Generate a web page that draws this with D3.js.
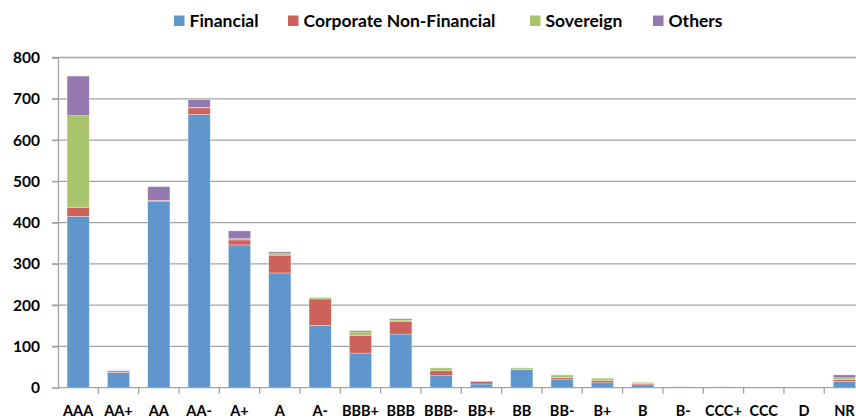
<!DOCTYPE html>
<html>
<head>
  <meta charset="utf-8"/>
  <script src="https://d3js.org/d3.v7.min.js"></script>
  <style>
    body { margin: 0; background: #fff; }
    svg text { font-family: Lato, "Open Sans", sans-serif; font-weight: bold; fill: #000; }
  </style>
</head>
<body>
<svg></svg>
<script>
// ratings on the x axis
const ratings = ["AAA", "AA+", "AA", "AA-", "A+", "A", "A-", "BBB+", "BBB", "BBB-",
  "BB+", "BB", "BB-", "B+", "B", "B-", "CCC+", "CCC", "D", "NR"];

// series values
const financial = [415, 37, 452, 662, 346, 278, 151, 84, 130, 29, 9, 44, 21, 12, 7, 1, 0, 1, 1, 15];
const corporate = [22, 1, 2, 16, 12, 43, 64, 43, 31, 12, 6, 1, 4, 5, 3, 1, 2, 0, 0, 5];
const sovereign = [222, 0, 0, 1, 3, 4, 3, 8, 3, 7, 0, 3, 6, 6, 3, 0, 0, 0, 0, 4];
const others = [96, 3, 33, 19, 19, 4, 1, 3, 3, 0, 1, 0, 0, 0, 0, 0, 0, 0, 0, 7];

const seriesNames = ["Financial", "Corporate Non-Financial", "Sovereign", "Others"];
const yTicks = [0, 100, 200, 300, 400, 500, 600, 700, 800];

const colors = ["#5f97cd", "#cd615b", "#a9c46c", "#9479b1"];

const width = 856, height = 418;
const svg = d3.select("svg")
    .attr("width", width)
    .attr("height", height);

const rows = ratings.map((r, i) => ({
  rating: r,
  Financial: financial[i],
  "Corporate Non-Financial": corporate[i],
  Sovereign: sovereign[i],
  Others: others[i]
}));

const stack = d3.stack().keys(seriesNames)(rows);

// the plot runs a little past the right edge, like the original
const x = d3.scaleBand()
    .domain(ratings)
    .range([58, 864.6])
    .paddingInner(0.45)
    .paddingOuter(0.225);

const y = d3.scaleLinear()
    .domain([0, 800])
    .range([387.7, 57.5]);

// gridlines
svg.append("g")
  .selectAll("line")
  .data(yTicks.slice(1))
  .join("line")
    .attr("x1", 52)
    .attr("x2", width)
    .attr("y1", d => y(d))
    .attr("y2", d => y(d))
    .style("stroke", "#a3a3a3")
    .style("stroke-width", 1.3);

// bars
svg.append("g")
  .selectAll("g")
  .data(stack)
  .join("g")
    .style("fill", (d, i) => colors[i])
  .selectAll("rect")
  .data(d => d)
  .join("rect")
    .attr("x", d => x(d.data.rating))
    .attr("width", x.bandwidth())
    .attr("y", d => y(d[1]))
    .attr("height", d => Math.max(0, y(d[0]) - y(d[1])))
    .style("stroke", "#fff")
    .style("stroke-opacity", 0.5)
    .style("stroke-width", 0.6);

// y axis
const yAxis = svg.append("g")
    .attr("transform", "translate(58,0)")
    .call(d3.axisLeft(y).tickValues(yTicks).tickSize(6).tickPadding(12));
yAxis.select(".domain").style("stroke", "#a3a3a3").style("stroke-width", 1.3);
yAxis.selectAll(".tick line").style("stroke", "#a3a3a3").style("stroke-width", 1.3);
yAxis.selectAll(".tick text")
    .style("font-size", "15.5px")
    .style("font-family", "Lato, sans-serif")
    .style("font-weight", "bold");

// x axis, ticks on category boundaries
const xAxis = svg.append("g")
    .attr("transform", "translate(0,387.7)");
xAxis.append("line")
    .attr("x1", 58)
    .attr("x2", width)
    .style("stroke", "#a3a3a3")
    .style("stroke-width", 1.3);
xAxis.selectAll(".bound")
  .data(ratings)
  .join("line")
    .attr("class", "bound")
    .attr("x1", d => x(d) - x.step() * x.paddingInner() / 2 + x.step())
    .attr("x2", d => x(d) - x.step() * x.paddingInner() / 2 + x.step())
    .attr("y1", 0)
    .attr("y2", 6)
    .style("stroke", "#a3a3a3")
    .style("stroke-width", 1.3);
xAxis.selectAll("text")
  .data(ratings)
  .join("text")
    .attr("x", d => x(d) + x.bandwidth() / 2)
    .attr("y", 28)
    .attr("text-anchor", "middle")
    .style("font-size", "14.5px")
    .text(d => d);

// legend
const legendX = [174, 288, 530, 653];
const legend = svg.append("g")
  .selectAll("g")
  .data(seriesNames)
  .join("g")
    .attr("transform", (d, i) => `translate(${legendX[i]},0)`);
legend.append("rect")
    .attr("y", 15.5)
    .attr("width", 10.5)
    .attr("height", 10.5)
    .style("fill", (d, i) => colors[i]);
legend.append("text")
    .attr("x", 15.5)
    .attr("y", 27)
    .style("font-size", "17.5px")
    .text(d => d);
</script>
</body>
</html>
